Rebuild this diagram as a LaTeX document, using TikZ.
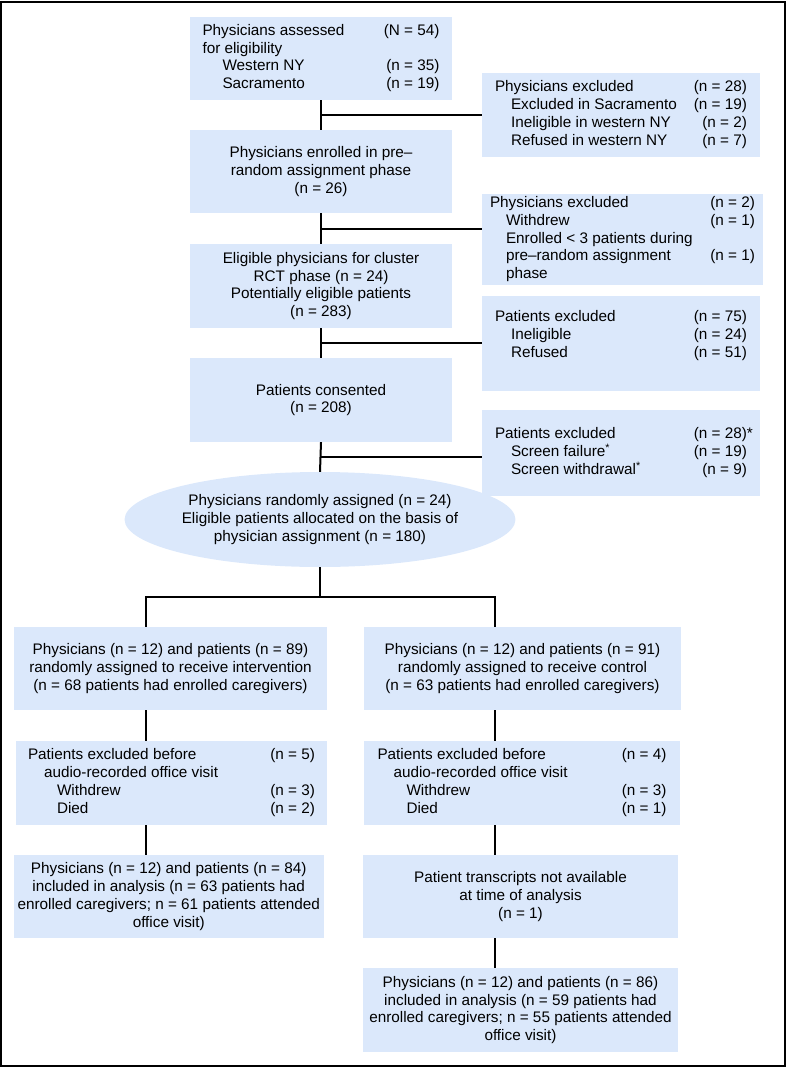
\documentclass[tikz,border=0pt]{standalone}
\usepackage{fontspec}
\setmainfont{Liberation Sans}
\usetikzlibrary{shapes.geometric,calc}
\definecolor{boxblue}{RGB}{219,232,251}
\tikzset{
  box/.style={rectangle, fill=boxblue, inner sep=0pt, align=center},
  oval/.style={ellipse, fill=boxblue, inner sep=0pt, align=center},
  link/.style={line width=2pt},
}
\newcommand{\nfont}{\fontsize{15.3}{17.7}\selectfont}
\newcommand{\indA}{\hspace*{16pt}}
\newcommand{\indB}{\hspace*{29pt}}

\begin{document}
\begin{tikzpicture}[x=1pt, y=-1pt, font=\nfont]
    \useasboundingbox (0,0) rectangle (786,1068);
    \draw [line width=1.5pt] (1,2) rectangle (785,1066);

    \node [box, minimum width=262, minimum height=83] (assessed) at (321,58.5)
    {\begin{tabular*}{237pt}{@{}l@{\extracolsep{\fill}}r@{}}
        Physicians assessed & (N = 54)\\
        for eligibility & \\
        \hspace*{20pt}Western NY & (n = 35)\\
        \hspace*{20pt}Sacramento & (n = 19)
    \end{tabular*}};
    \node [box, minimum width=262, minimum height=83] (enrolled) at (321,171.5)
    {Physicians enrolled in pre--\\random assignment phase\\(n = 26)};
    \node [box, minimum width=262, minimum height=84] (eligible) at (321,286)
    {Eligible physicians for cluster\\RCT phase (n = 24)\\Potentially eligible patients\\(n = 283)};
    \node [box, minimum width=262, minimum height=84] (consented) at (321,400)
    {Patients consented\\(n = 208)};
    \node [oval, minimum width=316, minimum height=95] (random) at (320,519.5)
    {Physicians randomly assigned (n = 24)\\Eligible patients allocated on the basis of\\physician assignment (n = 180)};

    \node [box, minimum width=278, minimum height=84] (phexclA) at (621,115)
    {\begin{tabular*}{252pt}{@{}l@{\extracolsep{\fill}}r@{}}
        Physicians excluded & (n = 28)\\
        \indA Excluded in Sacramento & (n = 19)\\
        \indA Ineligible in western NY & (n = 2)\\
        \indA Refused in western NY & (n = 7)
    \end{tabular*}};
    \node [box, minimum width=281, minimum height=91] (phexclB) at (622.5,239.5)
    {\begin{tabular*}{265pt}{@{}l@{\extracolsep{\fill}}r@{}}
        Physicians excluded & (n = 2)\\
        \indA Withdrew & (n = 1)\\
        \indA Enrolled < 3 patients during & \\
        \indA pre--random assignment & (n = 1)\\
        \indA phase &
    \end{tabular*}};
    \node [box, minimum width=278, minimum height=95] (ptexclA) at (621,343.5)
    {\begin{tabular*}{252pt}{@{}l@{\extracolsep{\fill}}r@{}}
        Patients excluded & (n = 75)\\
        \indA Ineligible & (n = 24)\\
        \indA Refused & (n = 51)\\[15pt]
    \end{tabular*}};
    \node [box, minimum width=278, minimum height=86] (ptexclB) at (621,453)
    {\begin{tabular*}{252pt}{@{}l@{\extracolsep{\fill}}r@{}}
        Patients excluded & (n = 28)\rlap{*}\\
        \indA Screen failure\textsuperscript{*} & (n = 19)\\
        \indA Screen withdrawal\textsuperscript{*} & (n = 9)
    \end{tabular*}};

    \node [box, minimum width=313, minimum height=83] (armint) at (170.5,668.5)
    {Physicians (n = 12) and patients (n = 89)\\randomly assigned to receive intervention\\(n = 68 patients had enrolled caregivers)};
    \node [box, minimum width=317, minimum height=83] (armctl) at (522.5,668.5)
    {Physicians (n = 12) and patients (n = 91)\\randomly assigned to receive control\\(n = 63 patients had enrolled caregivers)};
    \node [box, minimum width=311, minimum height=84] (exint) at (171.5,783)
    {\begin{tabular*}{287pt}{@{}l@{\extracolsep{\fill}}r@{}}
        Patients excluded before & (n = 5)\\
        \indA audio-recorded office visit & \\
        \indB Withdrew & (n = 3)\\
        \indB Died & (n = 2)
    \end{tabular*}};
    \node [box, minimum width=316, minimum height=84] (exctl) at (522,783)
    {\begin{tabular*}{289pt}{@{}l@{\extracolsep{\fill}}r@{}}
        Patients excluded before & (n = 4)\\
        \indA audio-recorded office visit & \\
        \indB Withdrew & (n = 3)\\
        \indB Died & (n = 1)
    \end{tabular*}};
    \node [box, minimum width=310.5, minimum height=83] (anaint) at (168.75,896.5)
    {Physicians (n = 12) and patients (n = 84)\\included in analysis (n = 63 patients had\\enrolled caregivers; n = 61 patients attended\\office visit)};
    \node [box, minimum width=315, minimum height=83] (notrans) at (520.5,896.5)
    {Patient transcripts not available\\at time of analysis\\(n = 1)};
    \node [box, minimum width=315, minimum height=84] (anactl) at (520.5,1010)
    {Physicians (n = 12) and patients (n = 86)\\included in analysis (n = 59 patients had\\enrolled caregivers; n = 55 patients attended\\office visit)};

    \coordinate (jA) at ($(assessed.south)!.5!(enrolled.north)$);
    \coordinate (jB) at ($(enrolled.south)!.5!(eligible.north)$);
    \coordinate (jC) at ($(eligible.south)!.5!(consented.north)$);
    \coordinate (jD) at ($(consented.south)!.5!(random.north)$);
    \coordinate (sl) at (146,597);
    \coordinate (sr) at (495,597);

    \draw [link] (assessed) -- (enrolled);
    \draw [link] (enrolled) -- (eligible);
    \draw [link] (eligible) -- (consented);
    \draw [link] (consented.south) -- (random.north);
    \draw [link] (jA) -- (jA -| phexclA.west);
    \draw [link] (jB) -- (jB -| phexclB.west);
    \draw [link] (jC) -- (jC -| ptexclA.west);
    \draw [link] (jD) -- (jD -| ptexclB.west);
    \draw [link] (random.south) -- (random.south |- sl);
    \draw [link] (sl |- armint.north) -- (sl) -- (sr) -- (sr |- armctl.north);
    \draw [link] (sl |- armint.south) -- (sl |- exint.north);
    \draw [link] (sl |- exint.south) -- (sl |- anaint.north);
    \draw [link] (sr |- armctl.south) -- (sr |- exctl.north);
    \draw [link] (sr |- exctl.south) -- (sr |- notrans.north);
    \draw [link] (sr |- notrans.south) -- (sr |- anactl.north);
\end{tikzpicture}
\end{document}
